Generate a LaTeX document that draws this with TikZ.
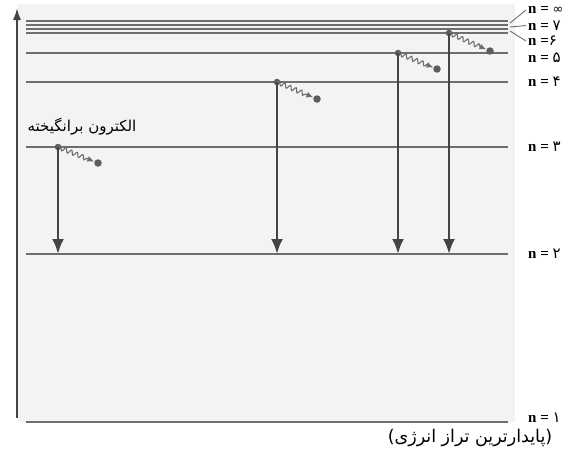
\documentclass[tikz,border=0pt]{standalone}
\usepackage{fontspec}
\usetikzlibrary{decorations.pathmorphing,arrows.meta}
\TeXXeTstate=1
\newfontfamily\fa[Script=Arabic]{DejaVu Sans}
\newfontfamily\lbserif{Liberation Serif}
\definecolor{levelc}{HTML}{6E6E6E}
\definecolor{arrowc}{HTML}{444444}
\definecolor{panelc}{HTML}{F3F3F3}
\definecolor{dotc}{HTML}{5C5C5C}
\begin{document}
\begin{tikzpicture}[x=1pt,y=-1pt,
  level/.style={draw=levelc,line width=1.6pt},
  trans/.style={draw=arrowc,line width=2.6pt,-{Latex[length=15pt,width=12pt]}},
  axisarrow/.style={draw=arrowc,line width=1.7pt,-{Latex[length=12pt,width=8pt]}},
  photon/.style={draw=levelc,line width=1.1pt,decorate,
     decoration={snake,amplitude=2.2pt,segment length=6pt,post length=7pt},
     -{Latex[length=7pt,width=6pt]}},
  edot/.style={circle,fill=dotc,inner sep=0pt,minimum size=7.5pt},
  sdot/.style={circle,fill=dotc,inner sep=0pt,minimum size=6.5pt},
  nlab/.style={anchor=west,inner sep=0pt,font=\lbserif\bfseries\fontsize{15}{15}\selectfont},
  leader/.style={draw=levelc,line width=0.9pt},
  fatext/.style={inner sep=0pt,font=\fa\fontsize{15}{15}\selectfont},
  fatextb/.style={inner sep=0pt,font=\fa\fontsize{17.5}{17.5}\selectfont}]
\useasboundingbox (0,0) rectangle (570,455);
\fill[panelc] (18,4) rectangle (515,422);
% axis
\coordinate (axb) at (17,418);
\coordinate (axt) at (17,8);
\draw[axisarrow] (axb) -- (axt);
% levels
\foreach \nm/\yy in {L1/422,L2/254,L3/147,L4/82,L5/53,L6/33,L7/29,L8/25,Linf/21}{
  \coordinate (\nm-w) at (26,\yy);
  \coordinate (\nm-e) at (508,\yy);
  \draw[level] (\nm-w) -- (\nm-e);
}
% labels
\node[nlab] (labinf) at (528,10) {n = {\fa\mdseries\fontsize{13}{13}\selectfont ∞}};
\node[nlab] (lab7) at (528,25.5) {n = {\fa\mdseries ۷}};
\node[nlab] (lab6) at (528,41) {n ={\fa\mdseries ۶}};
\node[nlab] (lab5) at (528,58) {n = {\fa\mdseries ۵}};
\node[nlab] (lab4) at (528,82) {n = {\fa\mdseries ۴}};
\node[nlab] (lab3) at (528,147) {n = {\fa\mdseries ۳}};
\node[nlab] (lab2) at (528,254) {n = {\fa\mdseries ۲}};
\node[nlab] (lab1) at (528,418) {n = {\fa\mdseries ۱}};
\coordinate (ld1) at (510,23);
\coordinate (ld2) at (510,27);
\coordinate (ld3) at (510,31);
\draw[leader] (ld1) -- ([xshift=-2pt]labinf.west);
\draw[leader] (ld2) -- ([xshift=-2pt]lab7.west);
\draw[leader] (ld3) -- ([xshift=-2pt]lab6.west);
% transitions
\foreach \i/\xs/\ys/\xd/\yd in {1/58/147/98/163, 2/277/82/317/99, 3/398/53/437/69, 4/449/33/490/51}{
  \coordinate (t\i) at (\xs,254);
  \node[sdot] (s\i) at (\xs,\ys) {};
  \node[edot] (d\i) at (\xd,\yd) {};
  \draw[trans] (s\i.center) -- (t\i);
  \draw[photon] (s\i.center) -- (d\i);
}
% texts
\node[fatext] (exc) at (82,127) {\beginR الکترون برانگیخته\endR};
\node[fatextb] (stab) at (470,438) {\beginR (پایدارترین تراز انرژی)\endR};
\end{tikzpicture}
\end{document}
